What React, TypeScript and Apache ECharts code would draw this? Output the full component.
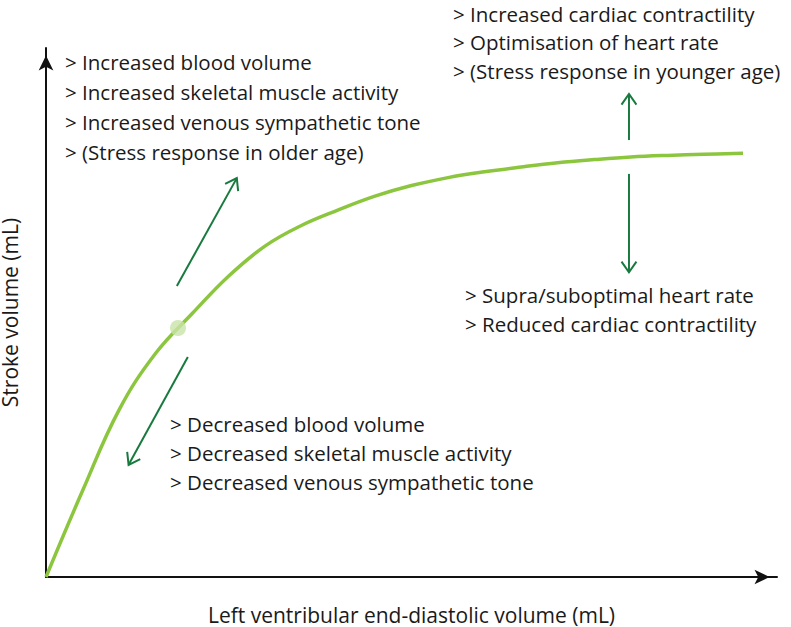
import React, { useEffect, useRef } from "react";
import * as echarts from "echarts";

// Frank–Starling curve (arbitrary units, 0–100 on both axes), read every 5 units
const curveX = [0, 5, 10, 15, 20, 25, 30, 35, 40, 45, 50, 55, 60, 65, 70, 75, 80, 85, 90, 95.35];
const curveY = [0, 16.3, 31.6, 42.3, 49.8, 56.9, 62.6, 66.5, 69.4, 72.0, 74.0, 75.5, 76.6, 77.5, 78.3, 78.9, 79.4, 79.7, 79.9, 80.1];

const operatingPoint = [18.06, 47.07];

// arrows: [x1, y1, x2 (tip), y2 (tip)]
const arrows = [
  [17.9, 55.0, 26.1, 75.4],
  [19.4, 41.6, 11.3, 21.2],
  [79.75, 82.6, 79.75, 91.3],
  [79.75, 76.2, 79.75, 57.6],
];

const upperLeftLines = [
  "> Increased blood volume",
  "> Increased skeletal muscle activity",
  "> Increased venous sympathetic tone",
  "> (Stress response in older age)",
];
const upperRightLines = [
  "> Increased cardiac contractility",
  "> Optimisation of heart rate",
  "> (Stress response in younger age)",
];
const lowerRightLines = ["> Supra/suboptimal heart rate", "> Reduced cardiac contractility"];
const lowerLeftLines = [
  "> Decreased blood volume",
  "> Decreased skeletal muscle activity",
  "> Decreased venous sympathetic tone",
];

const xName = "Left ventribular end-diastolic volume (mL)";
const yName = "Stroke volume (mL)";

const FONT = "'Open Sans'";
const TEXT_COLOR = "#1a1a1a";
const CURVE_COLOR = "#8cc63f";
const ARROW_COLOR = "#187a3e";

function textBlock(lines: string[], x: number, y: number, spacing: number) {
  return lines.map((t, i) => ({
    type: "text",
    left: x,
    top: y + i * spacing,
    style: { text: t, fill: TEXT_COLOR, font: `20.5px ${FONT}` },
    silent: true,
  }));
}

export default function App() {
  const ref = useRef<HTMLDivElement>(null);
  useEffect(() => {
    if (!ref.current) return;
    const chart = echarts.init(ref.current, undefined, { renderer: "svg" });
    const axisCommon = {
      type: "value",
      min: 0,
      max: 100,
      axisLine: {
        show: true,
        lineStyle: { color: "#111", width: 2 },
        symbol: ["none", "arrow"],
        symbolSize: [11, 15],
        symbolOffset: [0, -7.5],
      },
      axisTick: { show: false },
      axisLabel: { show: false },
      splitLine: { show: false },
      nameLocation: "middle",
      nameTextStyle: { fontFamily: "Open Sans", fontSize: 21, color: TEXT_COLOR },
    };
    chart.setOption({
      animation: false,
      backgroundColor: "#ffffff",
      grid: { left: 46, top: 48, right: 14, bottom: 50, outerBoundsMode: "none", containLabel: false },
      xAxis: { ...axisCommon, name: xName, nameGap: 27 },
      yAxis: { ...axisCommon, name: yName, nameGap: 26 },
      series: [
        {
          type: "line",
          data: curveX.map((x, i) => [x, curveY[i]]),
          smooth: 0.4,
          showSymbol: false,
          lineStyle: { color: CURVE_COLOR, width: 3.5 },
          z: 2,
        },
        {
          type: "scatter",
          data: [operatingPoint],
          symbolSize: 16,
          itemStyle: { color: "#c9e3a9" },
          z: 3,
        },
        {
          type: "custom",
          data: arrows,
          encode: { x: [0, 2], y: [1, 3] },
          renderItem: (_params: any, api: any) => {
            const p1 = api.coord([api.value(0), api.value(1)]);
            const p2 = api.coord([api.value(2), api.value(3)]);
            const ang = Math.atan2(p2[1] - p1[1], p2[0] - p1[0]);
            const L = 13;
            const a = (35 * Math.PI) / 180;
            const h1 = [p2[0] - L * Math.cos(ang - a), p2[1] - L * Math.sin(ang - a)];
            const h2 = [p2[0] - L * Math.cos(ang + a), p2[1] - L * Math.sin(ang + a)];
            const style = { stroke: ARROW_COLOR, lineWidth: 2, fill: "none" };
            return {
              type: "group",
              children: [
                { type: "line", shape: { x1: p1[0], y1: p1[1], x2: p2[0], y2: p2[1] }, style },
                { type: "polyline", shape: { points: [h1, p2, h2] }, style },
              ],
            };
          },
          z: 1,
        },
      ],
      graphic: [
        ...textBlock(upperLeftLines, 65, 51, 30),
        ...textBlock(upperRightLines, 453, 3, 28.5),
        ...textBlock(lowerRightLines, 465, 284, 29),
        ...textBlock(lowerLeftLines, 170, 413, 29),
      ],
    });
    return () => chart.dispose();
  }, []);
  return (
    <div
      ref={ref}
      style={{ position: "fixed", left: 0, top: 0, width: 791, height: 627, background: "#fff" }}
    />
  );
}
